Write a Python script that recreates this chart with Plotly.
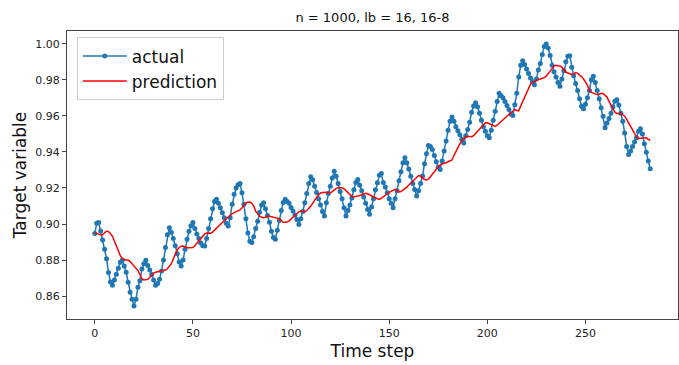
import plotly.graph_objects as go

# Actual target values (t = 0..283)
actual = [
    0.8947, 0.9005, 0.9009, 0.8961, 0.8911, 0.8860, 0.8808, 0.8731, 0.8679, 0.8661, 0.8690, 0.8722,
    0.8755, 0.8788, 0.8799, 0.8768, 0.8733, 0.8677, 0.8622, 0.8583, 0.8546, 0.8583, 0.8650, 0.8685,
    0.8750, 0.8780, 0.8799, 0.8770, 0.8745, 0.8720, 0.8690, 0.8661, 0.8670, 0.8694, 0.8740, 0.8800,
    0.8870, 0.8940, 0.8980, 0.8955, 0.8920, 0.8880, 0.8835, 0.8790, 0.8768, 0.8800, 0.8860, 0.8915,
    0.8960, 0.8990, 0.9008, 0.8975, 0.8945, 0.8920, 0.8895, 0.8880, 0.8878, 0.8920, 0.8975, 0.9030,
    0.9085, 0.9125, 0.9137, 0.9115, 0.9090, 0.9062, 0.9035, 0.9005, 0.8989, 0.9035, 0.9110, 0.9165,
    0.9200, 0.9218, 0.9225, 0.9174, 0.9110, 0.9030, 0.8950, 0.8905, 0.8897, 0.8930, 0.8975, 0.9015,
    0.9065, 0.9105, 0.9118, 0.9085, 0.9048, 0.9010, 0.8960, 0.8925, 0.8915, 0.8965, 0.9020, 0.9075,
    0.9120, 0.9137, 0.9125, 0.9115, 0.9092, 0.9072, 0.9050, 0.9025, 0.8998, 0.9030, 0.9070, 0.9118,
    0.9170, 0.9225, 0.9262, 0.9245, 0.9210, 0.9175, 0.9140, 0.9105, 0.9070, 0.9044, 0.9118, 0.9170,
    0.9210, 0.9255, 0.9293, 0.9265, 0.9225, 0.9180, 0.9140, 0.9090, 0.9044, 0.9075, 0.9105, 0.9145,
    0.9190, 0.9230, 0.9247, 0.9215, 0.9185, 0.9150, 0.9115, 0.9080, 0.9054, 0.9095, 0.9140, 0.9190,
    0.9229, 0.9270, 0.9280, 0.9230, 0.9205, 0.9174, 0.9140, 0.9115, 0.9091, 0.9140, 0.9185, 0.9240,
    0.9290, 0.9340, 0.9367, 0.9340, 0.9305, 0.9265, 0.9225, 0.9192, 0.9155, 0.9185, 0.9225, 0.9266,
    0.9335, 0.9390, 0.9435, 0.9430, 0.9413, 0.9380, 0.9345, 0.9315, 0.9303, 0.9350, 0.9405, 0.9460,
    0.9520, 0.9570, 0.9594, 0.9570, 0.9540, 0.9518, 0.9495, 0.9470, 0.9450, 0.9490, 0.9524, 0.9565,
    0.9620, 0.9655, 0.9672, 0.9650, 0.9615, 0.9575, 0.9540, 0.9515, 0.9490, 0.9478, 0.9520, 0.9575,
    0.9625, 0.9680, 0.9725, 0.9712, 0.9700, 0.9680, 0.9657, 0.9635, 0.9610, 0.9602, 0.9662, 0.9725,
    0.9815, 0.9880, 0.9905, 0.9885, 0.9860, 0.9835, 0.9810, 0.9791, 0.9773, 0.9805, 0.9855, 0.9890,
    0.9940, 0.9985, 0.9998, 0.9976, 0.9935, 0.9880, 0.9845, 0.9815, 0.9785, 0.9764, 0.9805, 0.9850,
    0.9900, 0.9930, 0.9934, 0.9870, 0.9822, 0.9780, 0.9740, 0.9695, 0.9653, 0.9639, 0.9665, 0.9700,
    0.9740, 0.9800, 0.9819, 0.9785, 0.9740, 0.9695, 0.9645, 0.9598, 0.9534, 0.9560, 0.9585, 0.9615,
    0.9650, 0.9681, 0.9690, 0.9660, 0.9615, 0.9570, 0.9505, 0.9430, 0.9386, 0.9405, 0.9430, 0.9455,
    0.9478, 0.9515, 0.9528, 0.9500, 0.9445, 0.9398, 0.9349, 0.9307,
]

# Model prediction (t = 0..283)
prediction = [
    0.8952, 0.8950, 0.8944, 0.8940, 0.8940, 0.8952, 0.8961, 0.8958, 0.8948, 0.8932, 0.8905, 0.8878,
    0.8850, 0.8825, 0.8810, 0.8803, 0.8801, 0.8801, 0.8792, 0.8780, 0.8768, 0.8757, 0.8742, 0.8720,
    0.8696, 0.8690, 0.8690, 0.8693, 0.8703, 0.8716, 0.8728, 0.8733, 0.8735, 0.8738, 0.8741, 0.8743,
    0.8745, 0.8752, 0.8765, 0.8780, 0.8805, 0.8835, 0.8858, 0.8870, 0.8877, 0.8878, 0.8873, 0.8870,
    0.8868, 0.8868, 0.8870, 0.8880, 0.8893, 0.8908, 0.8922, 0.8932, 0.8945, 0.8950, 0.8949, 0.8949,
    0.8955, 0.8965, 0.8973, 0.8984, 0.8995, 0.9008, 0.9020, 0.9031, 0.9041, 0.9051, 0.9058, 0.9063,
    0.9067, 0.9072, 0.9078, 0.9090, 0.9105, 0.9117, 0.9121, 0.9122, 0.9115, 0.9100, 0.9070, 0.9055,
    0.9044, 0.9038, 0.9035, 0.9038, 0.9044, 0.9043, 0.9041, 0.9040, 0.9038, 0.9036, 0.9030, 0.9018,
    0.9010, 0.9010, 0.9011, 0.9018, 0.9028, 0.9040, 0.9050, 0.9060, 0.9068, 0.9072, 0.9068, 0.9067,
    0.9075, 0.9085, 0.9098, 0.9115, 0.9135, 0.9148, 0.9162, 0.9172, 0.9175, 0.9177, 0.9176, 0.9175,
    0.9174, 0.9180, 0.9190, 0.9198, 0.9201, 0.9202, 0.9201, 0.9195, 0.9185, 0.9172, 0.9160, 0.9154,
    0.9152, 0.9152, 0.9155, 0.9158, 0.9161, 0.9166, 0.9170, 0.9168, 0.9163, 0.9160, 0.9154, 0.9146,
    0.9139, 0.9138, 0.9143, 0.9150, 0.9160, 0.9168, 0.9176, 0.9183, 0.9188, 0.9192, 0.9186, 0.9178,
    0.9180, 0.9188, 0.9195, 0.9205, 0.9217, 0.9228, 0.9240, 0.9251, 0.9262, 0.9269, 0.9265, 0.9253,
    0.9247, 0.9244, 0.9250, 0.9262, 0.9277, 0.9295, 0.9307, 0.9318, 0.9328, 0.9334, 0.9337, 0.9340,
    0.9344, 0.9348, 0.9355, 0.9380, 0.9405, 0.9428, 0.9445, 0.9462, 0.9475, 0.9483, 0.9487, 0.9486,
    0.9484, 0.9490, 0.9502, 0.9515, 0.9530, 0.9542, 0.9553, 0.9562, 0.9562, 0.9557, 0.9550, 0.9545,
    0.9542, 0.9548, 0.9557, 0.9565, 0.9577, 0.9588, 0.9598, 0.9607, 0.9615, 0.9626, 0.9635, 0.9630,
    0.9628, 0.9655, 0.9680, 0.9708, 0.9735, 0.9760, 0.9775, 0.9785, 0.9792, 0.9798, 0.9802, 0.9804,
    0.9806, 0.9812, 0.9820, 0.9835, 0.9852, 0.9868, 0.9876, 0.9880, 0.9880, 0.9877, 0.9870, 0.9855,
    0.9843, 0.9838, 0.9833, 0.9829, 0.9833, 0.9840, 0.9836, 0.9828, 0.9818, 0.9805, 0.9790, 0.9770,
    0.9742, 0.9730, 0.9726, 0.9722, 0.9718, 0.9720, 0.9725, 0.9724, 0.9715, 0.9703, 0.9680, 0.9658,
    0.9635, 0.9620, 0.9613, 0.9612, 0.9613, 0.9606, 0.9598, 0.9580, 0.9560, 0.9540, 0.9518, 0.9496,
    0.9484, 0.9474, 0.9475, 0.9478, 0.9480, 0.9478, 0.9470, 0.9465,
]

time_steps = list(range(len(actual)))
x_ticks = [0, 50, 100, 150, 200, 250]
y_ticks = [0.86, 0.88, 0.90, 0.92, 0.94, 0.96, 0.98, 1.00]

FONT = "DejaVu Sans"
n = len(actual) - 1
ymin = min(min(actual), min(prediction))
ymax = max(max(actual), max(prediction))
ypad = 0.05 * (ymax - ymin)

fig = go.Figure()
fig.add_trace(go.Scatter(
    x=time_steps, y=actual, mode="lines+markers", name="actual",
    line=dict(color="#1f77b4", width=1.5),
    marker=dict(color="#1f77b4", size=5),
))
fig.add_trace(go.Scatter(
    x=time_steps, y=prediction, mode="lines", name="prediction",
    line=dict(color="red", width=1.5),
))

axis_common = dict(
    showgrid=False, zeroline=False, showline=True, mirror=True,
    linecolor="#444444", linewidth=1,
    ticks="outside", ticklen=4, tickwidth=1, tickcolor="#444444",
    tickfont=dict(family=FONT, size=11, color="#222222"),
)

fig.update_layout(
    width=679, height=365,
    margin=dict(l=67, r=1, t=31, b=46),
    paper_bgcolor="white", plot_bgcolor="white",
    title=dict(text="n = 1000, lb = 16, 16-8", x=(67 + 678) / 2 / 679, xanchor="center",
               y=1 - 17 / 365, yanchor="middle",
               font=dict(family=FONT, size=13, color="#111111")),
    xaxis=dict(range=[-0.05 * n, 1.05 * n], tickvals=x_ticks,
               title=dict(text="Time step", font=dict(family=FONT, size=17, color="#111111"), standoff=5),
               **axis_common),
    yaxis=dict(range=[ymin - ypad, ymax + ypad], tickvals=y_ticks, tickformat=".2f",
               title=dict(text="Target variable", font=dict(family=FONT, size=17, color="#111111"), standoff=4),
               **axis_common),
    legend=dict(x=0.016, y=0.978, xanchor="left", yanchor="top",
                bgcolor="rgba(255,255,255,0.8)", bordercolor="#cccccc", borderwidth=1,
                font=dict(family=FONT, size=17, color="#111111"),
                itemwidth=44, tracegroupgap=0),
    showlegend=True,
)

fig.write_html("out.html")
